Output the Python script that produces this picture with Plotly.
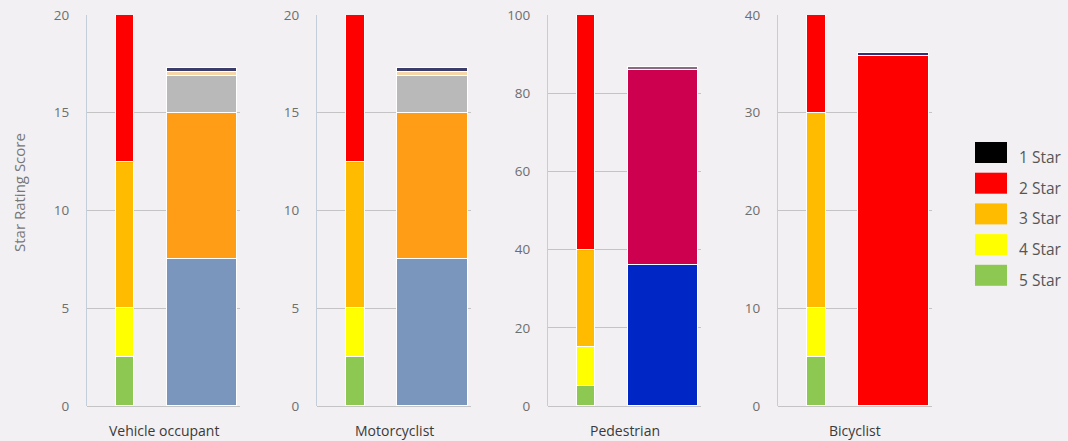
import plotly.graph_objects as go

W, H = 1068, 441

# ---- data ----
panels = ["Vehicle occupant", "Motorcyclist", "Pedestrian", "Bicyclist"]
axis_max = [20, 20, 100, 40]
axis_step = [5, 5, 20, 10]

star_names = ["5 Star", "4 Star", "3 Star", "2 Star", "1 Star"]
# band sizes of star-rating thresholds (bottom to top): 5,4,3,2,1 star
star_bands = {
    "Vehicle occupant": [2.5, 2.5, 7.5, 7.5, 0],
    "Motorcyclist":     [2.5, 2.5, 7.5, 7.5, 0],
    "Pedestrian":       [5, 10, 25, 60, 0],
    "Bicyclist":        [5, 5, 20, 10, 0],
}
# score components (bottom to top)
score_parts = {
    "Vehicle occupant": [7.5, 7.5, 1.9, 0.2, 0.2],
    "Motorcyclist":     [7.5, 7.5, 1.9, 0.2, 0.2],
    "Pedestrian":       [36, 50, 0.8],
    "Bicyclist":        [35.8, 0.3],
}

# ---- styles ----
star_colors = {"5 Star": "#8dc853", "4 Star": "#ffff00", "3 Star": "#ffbb00",
               "2 Star": "#ff0000", "1 Star": "#000000"}
part_colors = {
    "Vehicle occupant": ["#7b96bd", "#ff9e16", "#b9b9b9", "#f6d6a6", "#3c3c6a"],
    "Motorcyclist":     ["#7b96bd", "#ff9e16", "#b9b9b9", "#f6d6a6", "#3c3c6a"],
    "Pedestrian":       ["#0026c6", "#cc004f", "#8a6a80"],
    "Bicyclist":        ["#ff0000", "#3a2a78"],
}
bg = "#f2f0f2"
grid = "#c4c4c4"
font = "Open Sans"

panel_px = [(87, 240), (317, 471), (548, 701), (778, 932)]
ydom = [(H - 406) / H, (H - 15) / H]
cats = ["Stars", "Score"]

fig = go.Figure()
annotations = []
for i, p in enumerate(panels):
    sfx = "" if i == 0 else str(i + 1)
    xa, ya = "x" + sfx, "y" + sfx
    for name, v in zip(star_names, star_bands[p]):
        fig.add_trace(go.Bar(x=[cats[0]], y=[v], name=name, xaxis=xa, yaxis=ya,
                             width=0.235, marker=dict(color=star_colors[name],
                             line=dict(color="white", width=1)), showlegend=False))
    for j, v in enumerate(score_parts[p]):
        fig.add_trace(go.Bar(x=[cats[1]], y=[v], xaxis=xa, yaxis=ya,
                             width=0.915, marker=dict(color=part_colors[p][j],
                             line=dict(color="white", width=1)), showlegend=False))
    x0, x1 = panel_px[i]
    fig.layout["xaxis" + sfx] = dict(domain=[x0 / W, x1 / W], range=[-0.5, 1.5],
                                     type="category", categoryarray=cats,
                                     showticklabels=False, showgrid=False,
                                     zeroline=False, showline=False, anchor=ya,
                                     automargin=False)
    fig.layout["yaxis" + sfx] = dict(domain=ydom, range=[0, axis_max[i]], dtick=axis_step[i],
                                     tick0=0, showgrid=True, gridcolor=grid, gridwidth=1,
                                     zeroline=True, zerolinecolor=grid, zerolinewidth=1,
                                     showline=True, linecolor="#c4cedb", linewidth=1,
                                     ticks="", ticklabelstandoff=14, automargin=False,
                                     tickfont=dict(family=font, size=13.5, color="#6e6e6e"),
                                     anchor=xa)
    annotations.append(dict(text=p, xref="paper", yref="paper", x=(x0 + x1) / 2 / W,
                            y=(H - 430) / H, yanchor="middle", xanchor="center",
                            showarrow=False, font=dict(family=font, size=14, color="#3a3a3a")))

annotations.append(dict(text="Star Rating Score", xref="paper", yref="paper",
                        x=19 / W, y=(H - 193) / H, textangle=-90, showarrow=False,
                        xanchor="center", yanchor="middle",
                        font=dict(family=font, size=15, color="#777777")))

# legend (manual, large swatches)
shapes = []
legend_order = ["1 Star", "2 Star", "3 Star", "4 Star", "5 Star"]
for k, name in enumerate(legend_order):
    top = 142 + k * 30.7
    shapes.append(dict(type="rect", xref="paper", yref="paper",
                       x0=975 / W, x1=1007 / W, y0=(H - top) / H, y1=(H - top - 21) / H,
                       fillcolor=star_colors[name], line=dict(width=0)))
    annotations.append(dict(text=name, xref="paper", yref="paper", x=1017 / W,
                            y=(H - top - 15) / H, xanchor="left", yanchor="middle",
                            showarrow=False, font=dict(family=font, size=15.5, color="#555555")))

fig.update_layout(width=W, height=H, barmode="stack", bargap=0,
                  margin=dict(l=0, r=0, t=0, b=0, autoexpand=False),
                  paper_bgcolor=bg, plot_bgcolor=bg,
                  annotations=annotations, shapes=shapes, showlegend=False)
fig.write_html("out.html", config={"displayModeBar": False},
               post_script="document.body.style.margin='0';document.body.style.overflow='hidden';")
